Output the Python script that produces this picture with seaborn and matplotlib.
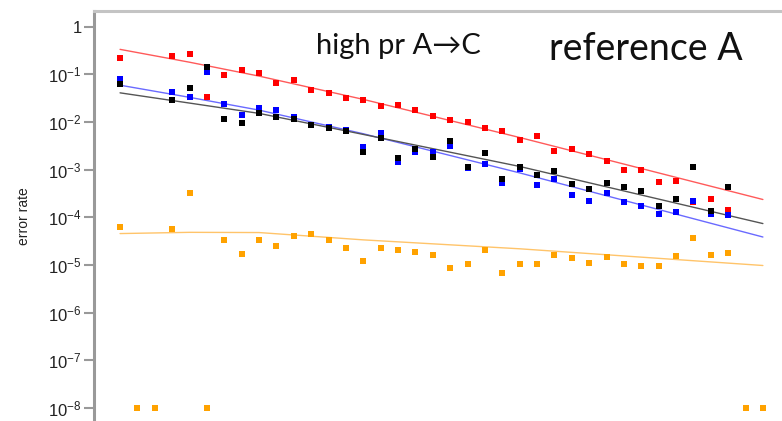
import numpy as np
import pandas as pd
import matplotlib
matplotlib.use("Agg")
import matplotlib.pyplot as plt
import seaborn as sns

# ---------------- data ----------------
positions = list(range(38))
nan = np.nan

red_rate = [0.217, nan, nan, 0.242, 0.267, 0.0338, 0.0967, 0.123, 0.108, 0.0667,
            0.0759, 0.0468, 0.041, 0.0313, 0.0288, 0.0216, 0.0227, 0.0178, 0.0135, 0.0113,
            0.0101, 0.00734, 0.00644, 0.0043, 0.00506, 0.00245, 0.00266, 0.00212, 0.00153, 0.00098,
            0.00098, 0.000554, 0.000573, 0.000207, 0.000244, 0.000146, nan, nan]

blue_rate = [0.0785, nan, nan, 0.0419, 0.0338, 0.1135, 0.0234, 0.01397, 0.0193, 0.0178,
             0.01286, 0.0086, 0.00793, 0.00676, 0.00293, 0.00593, 0.00146, 0.00237, 0.00237, 0.00312,
             0.00108, 0.00129, 0.000528, 0.00101, 0.000472, 0.000653, 0.000291, 0.000218, 0.000326, 0.000211,
             0.000171, 0.000120, 0.00013, 0.000221, 0.000115, 0.000111, nan, nan]

black_rate = [0.0617, nan, nan, 0.0288, 0.0508, 0.1445, 0.01134, 0.00962, 0.0156, 0.01268,
              0.0115, 0.0086, 0.00734, 0.00653, 0.00237, 0.00466, 0.00172, 0.00266, 0.00186, 0.00403,
              0.00115, 0.00219, 0.000653, 0.00115, 0.000766, 0.000944, 0.000513, 0.000389, 0.000528, 0.000435,
              0.000353, 0.000171, 0.000237, 0.00115, 0.000136, 0.000435, nan, nan]

orange_rate = [6.28e-5, 1e-8, 1e-8, 5.82e-5, 3.26e-4, 1e-8, 3.30e-5, 1.73e-5, 3.42e-5, 2.56e-5,
               4.15e-5, 4.42e-5, 3.42e-5, 2.32e-5, 1.21e-5, 2.32e-5, 2.11e-5, 1.91e-5, 1.60e-5, 8.8e-6,
               1.07e-5, 2.04e-5, 6.8e-6, 1.03e-5, 1.03e-5, 1.60e-5, 1.38e-5, 1.12e-5, 1.47e-5, 1.07e-5,
               9.7e-6, 9.4e-6, 1.55e-5, 3.69e-5, 1.60e-5, 1.79e-5, 1e-8, 1e-8]

# smoothed trend values
trend_positions = [0, 4, 8, 14, 23, 37]
red_trend = [0.335, 0.180, 0.0920, 0.0299, 0.00474, 2.37e-4]
blue_trend = [0.0593, 0.0330, 0.0178, 0.00568, 8.57e-4, 3.87e-5]
black_trend = [0.0410, 0.0250, 0.0152, 0.0055, 0.00117, 7.41e-5]
orange_trend = [4.57e-5, 4.85e-5, 4.80e-5, 3.37e-5, 2.19e-5, 9.77e-6]

point_colors = {"orange": "#ffa200", "red": "#ff0000", "blue": "#0000ff", "black": "#000000"}
line_colors = {"orange": "#ffc46a", "red": "#ff5a5a", "blue": "#6a6aff", "black": "#555555"}

ytick_values = [1, 1e-1, 1e-2, 1e-3, 1e-4, 1e-5, 1e-6, 1e-7, 1e-8]
ytick_labels = ["1", "$10^{-1}$", "$10^{-2}$", "$10^{-3}$", "$10^{-4}$",
                "$10^{-5}$", "$10^{-6}$", "$10^{-7}$", "$10^{-8}$"]

# ---------------- frames ----------------
rows = []
for name, vals in zip(["orange", "red", "blue", "black"],
                      [orange_rate, red_rate, blue_rate, black_rate]):
    for p, v in zip(positions, vals):
        rows.append({"pos": p, "rate": v, "series": name})
df = pd.DataFrame(rows).dropna()

trows = []
for name, vals in zip(["orange", "red", "blue", "black"],
                      [orange_trend, red_trend, blue_trend, black_trend]):
    for p, v in zip(trend_positions, vals):
        trows.append({"pos": p, "rate": v, "series": name})
tdf = pd.DataFrame(trows)

sns.set_theme(style="white")
plt.rcParams["font.family"] = ["Liberation Sans", "DejaVu Sans"]
plt.rcParams["mathtext.default"] = "regular"

fig = plt.figure(figsize=(7.82, 4.21), dpi=100)
ax = fig.add_axes([94 / 782, 0.0, 1 - 94 / 782, 1 - 11 / 421])
ax.set_yscale("log")

for name in ["orange", "red", "blue", "black"]:
    sns.lineplot(data=tdf[tdf.series == name], x="pos", y="rate", ax=ax,
                 color=line_colors[name], linewidth=1.0, zorder=2)

for name in ["orange", "red", "blue", "black"]:
    sns.scatterplot(data=df[df.series == name], x="pos", y="rate", ax=ax,
                    color=point_colors[name], marker="s", s=25, linewidth=0, zorder=3)

ax.set_xlim(-1.5, 38.1)
ax.set_ylim(10 ** -8.273, 10 ** 0.33)
ax.set_xticks([])
ax.set_yticks(ytick_values)
ax.set_yticklabels(ytick_labels)
ax.yaxis.set_minor_locator(matplotlib.ticker.NullLocator())
ax.tick_params(axis="y", direction="out", length=7, width=1.5, color="#999999",
               labelsize=12, pad=2, labelcolor="#222222", left=True)
ax.set_xlabel("")
ax.set_ylabel("error rate", fontsize=10, labelpad=12, color="#222222")

for side in ["right", "bottom"]:
    ax.spines[side].set_visible(False)
ax.spines["left"].set_color("#999999")
ax.spines["left"].set_linewidth(2.2)
ax.spines["top"].set_color("#c4c4c4")
ax.spines["top"].set_linewidth(2.2)

fig.text(398 / 782, 1 - 46 / 421, "high pr A\u2192C", ha="center", va="center",
         fontsize=21, family=["Lato", "DejaVu Sans"], color="#111111")
fig.text(646 / 782, 1 - 49 / 421, "reference A", ha="center", va="center",
         fontsize=27, family=["Lato", "DejaVu Sans"], color="#111111")

fig.savefig("out.png", dpi=100)
